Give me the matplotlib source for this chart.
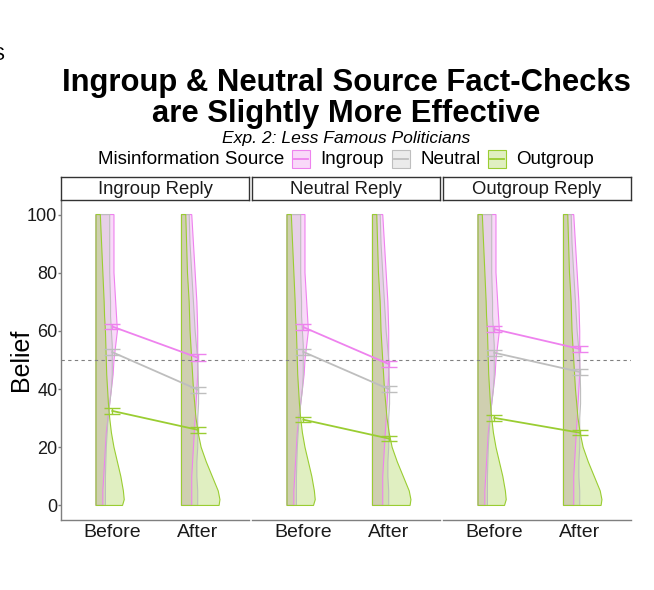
import matplotlib
matplotlib.use("Agg")
import matplotlib.pyplot as plt
import numpy as np
from matplotlib.patches import Polygon, Rectangle
from matplotlib.lines import Line2D

plt.rcParams['font.family'] = ['Liberation Sans', 'DejaVu Sans']

# ---------------- data ----------------
panels = ["Ingroup Reply", "Neutral Reply", "Outgroup Reply"]
times = ["Before", "After"]
groups = ["Ingroup", "Neutral", "Outgroup"]
colors = ["#EE82EE", "#BEBEBE", "#9ACD32"]

# mean belief (Before, After) per panel
ingroup_means = [[61.5, 50.8], [61.3, 48.6], [60.6, 53.8]]
neutral_means = [[52.7, 39.8], [52.8, 40.0], [52.5, 45.9]]
outgroup_means = [[32.5, 26.0], [29.5, 23.0], [30.1, 25.0]]
ingroup_se = [[1.0, 1.1], [1.0, 1.0], [1.0, 1.0]]
neutral_se = [[1.0, 1.0], [1.0, 1.0], [1.0, 1.0]]
outgroup_se = [[0.9, 1.0], [0.9, 0.9], [0.9, 0.9]]

# half-violin widths (x units) at belief levels
dens_y = [0, 2, 5, 10, 15, 20, 25, 30, 35, 40, 45, 50, 55, 60, 65, 70, 80, 90, 100]
before_ingroup = [0.08, 0.08, 0.08, 0.09, 0.10, 0.11, 0.12, 0.14, 0.16, 0.18, 0.20, 0.21,
                  0.23, 0.25, 0.24, 0.23, 0.21, 0.21, 0.21]
before_neutral = [0.11, 0.11, 0.11, 0.11, 0.115, 0.12, 0.13, 0.14, 0.16, 0.18, 0.19, 0.19,
                  0.19, 0.18, 0.17, 0.17, 0.16, 0.16, 0.16]
before_outgroup = [0.31, 0.33, 0.32, 0.29, 0.25, 0.21, 0.18, 0.16, 0.145, 0.135, 0.125, 0.12,
                   0.115, 0.11, 0.10, 0.095, 0.08, 0.065, 0.05]
after_ingroup = [0.12, 0.12, 0.12, 0.12, 0.13, 0.14, 0.15, 0.16, 0.17, 0.18, 0.19, 0.19,
                 0.19, 0.19, 0.185, 0.18, 0.16, 0.14, 0.12]
after_neutral = [0.19, 0.19, 0.19, 0.18, 0.18, 0.19, 0.19, 0.19, 0.20, 0.20, 0.195, 0.19,
                 0.175, 0.16, 0.15, 0.14, 0.12, 0.10, 0.09]
after_outgroup = [0.44, 0.45, 0.43, 0.36, 0.29, 0.23, 0.195, 0.17, 0.155, 0.14, 0.13, 0.12,
                  0.11, 0.10, 0.095, 0.09, 0.07, 0.06, 0.05]

ref_line = 50
y_ticks = [0, 20, 40, 60, 80, 100]

# ---------------- layout helpers ----------------
W, H = 654, 590
fig = plt.figure(figsize=(W / 100, H / 100), dpi=100)

def fx(px):
    return px / W

def fy(py):
    return 1 - py / H

panel_left = [61, 252, 443]
panel_w = 188
ax_top, ax_bot = 200, 520
strip_top = 177

means = [ingroup_means, neutral_means, outgroup_means]
ses = [ingroup_se, neutral_se, outgroup_se]
violins = [[before_ingroup, before_neutral, before_outgroup],
           [after_ingroup, after_neutral, after_outgroup]]

for p, name in enumerate(panels):
    ax = fig.add_axes([fx(panel_left[p]), fy(ax_bot), fx(panel_w), (ax_bot - ax_top) / H])
    ax.set_xlim(0.4, 2.6)
    ax.set_ylim(-5, 105)
    for s in ["top", "right"]:
        ax.spines[s].set_visible(False)
    ax.spines["bottom"].set_color("#7f7f7f")
    ax.spines["left"].set_color("#7f7f7f")
    ax.spines["bottom"].set_linewidth(1.0)
    ax.spines["left"].set_linewidth(1.0)
    ax.set_xticks([1, 2])
    ax.set_xticklabels(times, fontsize=14, color="#1a1a1a")
    ax.tick_params(axis="x", length=0, pad=3)
    if p == 0:
        ax.set_yticks(y_ticks)
        ax.set_yticklabels([str(v) for v in y_ticks], fontsize=13, color="#1a1a1a")
        ax.tick_params(axis="y", length=2.2, color="#7f7f7f", width=1.0, pad=0.5)
    else:
        ax.spines["left"].set_visible(False)
        ax.set_yticks([])

    # half violins
    for t in range(2):
        base = (t + 1) - 0.19
        for g in range(3):
            w = np.array(violins[t][g])
            yy = np.array(dens_y, dtype=float)
            xs = np.concatenate([[base], base + w, [base]])
            ys = np.concatenate([[yy[0]], yy, [yy[-1]]])
            poly = Polygon(np.column_stack([xs, ys]), closed=True,
                           facecolor=colors[g], alpha=0.3, edgecolor="none", zorder=1)
            ax.add_patch(poly)
            outline = Polygon(np.column_stack([xs, ys]), closed=True,
                              facecolor="none", edgecolor=colors[g], linewidth=0.8, zorder=1.5)
            ax.add_patch(outline)

    ax.axhline(ref_line, color="#808080", linestyle=(0, (3, 3)), linewidth=0.8, zorder=2)

    for g in range(3):
        m = means[g][p]
        e = ses[g][p]
        ax.plot([1, 2], m, color=colors[g], linewidth=1.3, zorder=3)
        ax.errorbar([1, 2], m, yerr=e, fmt="none", ecolor=colors[g],
                    elinewidth=1.0, capsize=6, capthick=1.0, zorder=3)

    # strip
    sax = fig.add_axes([fx(panel_left[p]), fy(ax_top), fx(panel_w), (ax_top - strip_top) / H])
    sax.set_xticks([])
    sax.set_yticks([])
    for s in sax.spines.values():
        s.set_color("#333333")
        s.set_linewidth(1.0)
    sax.text(0.5, 0.45, name, ha="center", va="center", fontsize=13.3, color="#1a1a1a",
             transform=sax.transAxes)

# y label
fig.text(fx(21), fy(360), "Belief", rotation=90, ha="center", va="center", fontsize=18)

# titles
fig.text(fx(346), fy(83), "Ingroup & Neutral Source Fact-Checks", ha="center", va="center",
         fontsize=22.3, fontweight="bold")
fig.text(fx(346), fy(114), "are Slightly More Effective", ha="center", va="center",
         fontsize=22.3, fontweight="bold")
fig.text(fx(346), fy(138), "Exp. 2: Less Famous Politicians", ha="center", va="center",
         fontsize=12.6, style="italic")

# legend
leg_y = 159
fig.text(fx(98), fy(leg_y), "Misinformation Source", ha="left", va="center", fontsize=13.5)
key_x = [292, 392, 488]
for g in range(3):
    kx = key_x[g]
    fig.patches.append(Rectangle((fx(kx), fy(leg_y + 9)), fx(18), 18 / H, transform=fig.transFigure,
                                 facecolor=colors[g], alpha=0.3, edgecolor="none"))
    fig.patches.append(Rectangle((fx(kx), fy(leg_y + 9)), fx(18), 18 / H, transform=fig.transFigure,
                                 facecolor="none", edgecolor=colors[g], linewidth=0.8))
    fig.lines.append(Line2D([fx(kx + 2), fx(kx + 16)], [fy(leg_y), fy(leg_y)],
                            transform=fig.transFigure, color=colors[g], linewidth=1.3))
    fig.text(fx(kx + 28), fy(leg_y), groups[g], ha="left", va="center", fontsize=13.5)

fig.text(fx(-9), fy(55), "S", ha="left", va="center", fontsize=14)

fig.savefig("out.png", dpi=100)
